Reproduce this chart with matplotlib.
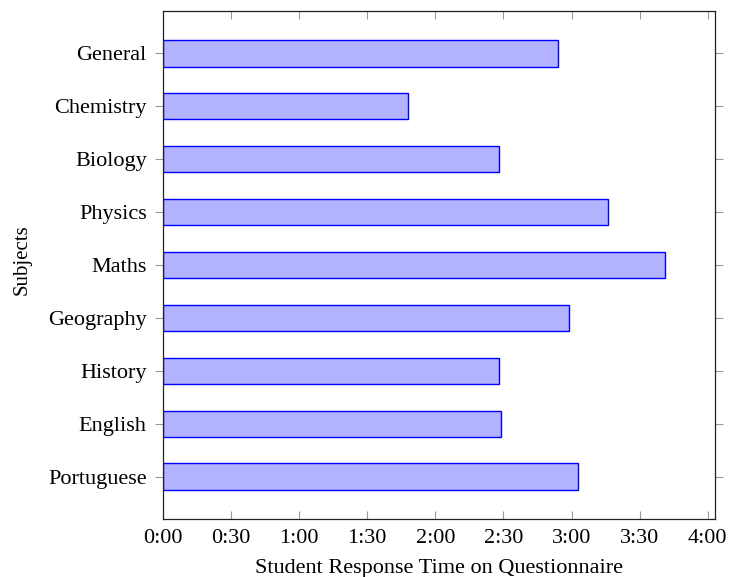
import matplotlib.pyplot as plt
from matplotlib.ticker import FuncFormatter

# subjects from top to bottom, response times in seconds
subjects = ['General', 'Chemistry', 'Biology', 'Physics', 'Maths',
            'Geography', 'History', 'English', 'Portuguese']
seconds = [174, 108, 148, 196, 221, 179, 148, 149, 183]
xtick_values = [0, 30, 60, 90, 120, 150, 180, 210, 240]

plt.rcParams['font.family'] = ['Liberation Serif', 'DejaVu Serif']

fig = plt.figure(figsize=(7.3, 5.77), dpi=100)
ax = fig.add_axes([0.2229, 0.1005, 0.979 - 0.2229, 0.981 - 0.1005])

positions = list(range(len(subjects)))
ax.barh(positions, seconds, height=0.5, color='#b3b3ff', edgecolor='#0000ff', linewidth=1.0)

ax.set_xlim(0, 243)
ax.set_ylim(len(subjects) - 1 + 0.8, -0.8)

ax.set_xticks(xtick_values)
ax.xaxis.set_major_formatter(FuncFormatter(lambda v, p: '%d:%02d' % (int(v) // 60, int(v) % 60)))
ax.set_yticks(positions)
ax.set_yticklabels(subjects)

ax.tick_params(axis='x', direction='in', top=True, length=5.5, width=0.8, color='#999999',
               labelsize=16, pad=7)
ax.tick_params(axis='y', direction='out', right=True, length=5.5, width=0.8, color='#999999',
               labelsize=16, pad=6)

for s in ax.spines.values():
    s.set_linewidth(0.9)
    s.set_color('#222222')

ax.set_xlabel('Student Response Time on Questionnaire', fontsize=16, labelpad=8)
ax.set_ylabel('Subjects', fontsize=15)
ax.yaxis.set_label_coords(-0.238, 0.51)

fig.savefig('out.png', dpi=100)
